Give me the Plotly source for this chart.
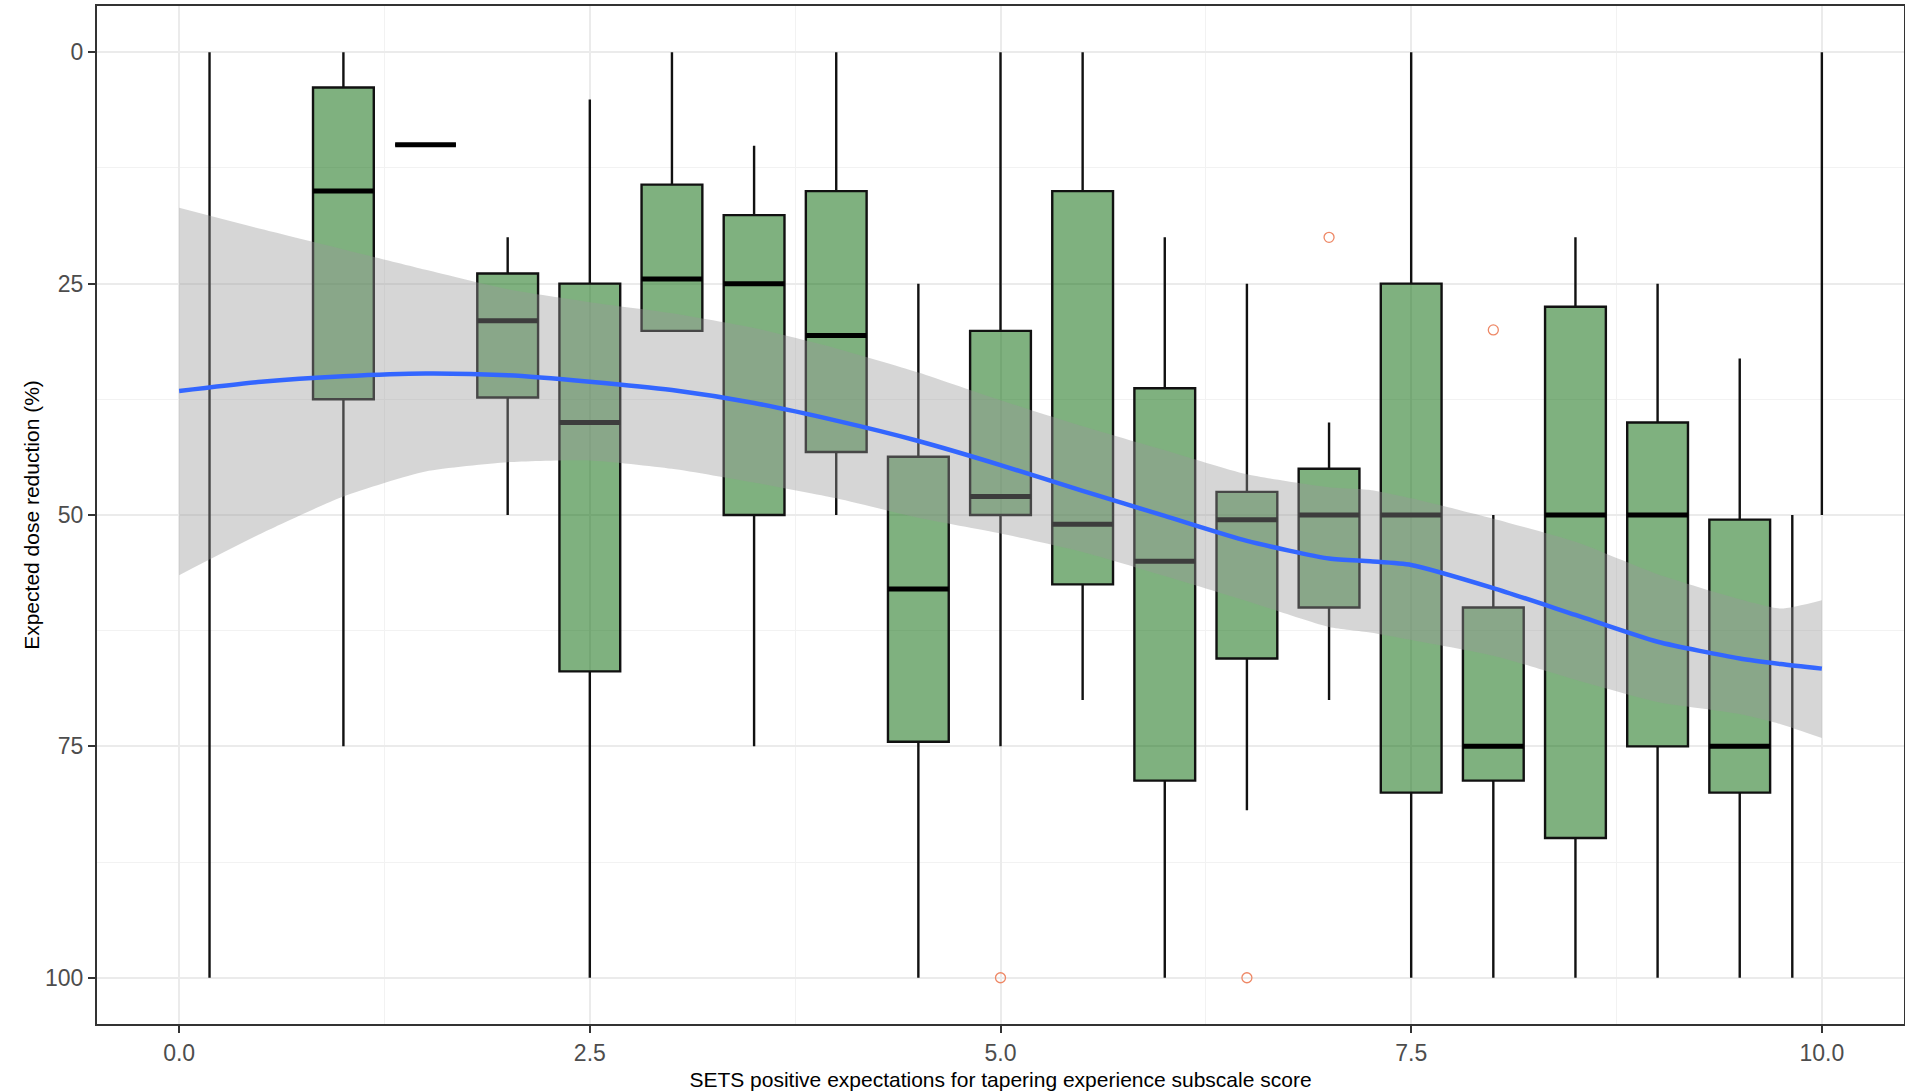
import plotly.graph_objects as go

# ---------------- data ----------------
box_x = [1.0, 1.5, 2.0, 2.5, 3.0, 3.5, 4.0, 4.5, 5.0, 5.5, 6.0, 6.5, 7.0, 7.5, 8.0, 8.5, 9.0, 9.5]
box_low = [0, 10, 20, 5.1, 0, 10.1, 0, 25, 0, 0, 20, 25, 40, 0, 50, 20, 25, 33.1]
box_q1 = [3.8, 10, 23.9, 25, 14.3, 17.6, 15.0, 43.7, 30.1, 15.0, 36.3, 47.5, 45, 25, 60, 27.5, 40.0, 50.5]
box_med = [15.0, 10, 29.0, 40.0, 24.5, 25, 30.6, 58.0, 48.0, 51.0, 55.0, 50.5, 50, 50, 75, 50, 50, 75]
box_q3 = [37.5, 10, 37.3, 66.9, 30.1, 50, 43.2, 74.5, 50, 57.5, 78.7, 65.5, 60, 80, 78.7, 84.9, 75, 80]
box_high = [75, 10, 50, 100, 30.1, 75, 50, 100, 75, 70, 100, 81.9, 70, 100, 100, 100, 100, 100]

# whisker-only groups (no visible box)
seg_x = [0.185, 9.82, 10.0]
seg_low = [0, 50, 0]
seg_high = [100, 100, 50]

out_x = [5.0, 6.5, 7.0, 8.0]
out_y = [100, 100, 20, 30]

smooth_x = [0.0, 0.5, 1.0, 1.5, 2.0, 2.5, 3.0, 3.5, 4.0, 4.5, 5.0, 5.5, 6.0, 6.5, 7.0, 7.25, 7.5, 8.0, 8.5, 9.0, 9.5, 9.75, 10.0]
smooth_y = [36.6, 35.6, 35.0, 34.7, 34.9, 35.6, 36.5, 37.9, 39.8, 42.0, 44.6, 47.4, 50.1, 52.8, 54.7, 55.0, 55.4, 57.9, 60.8, 63.7, 65.5, 66.1, 66.6]
band_top = [16.8, 19.1, 21.3, 23.5, 25.6, 27.0, 28.2, 29.8, 32.0, 34.6, 37.6, 40.4, 43.0, 45.6, 47.0, 47.3, 48.2, 50.4, 52.9, 56.4, 59.1, 60.1, 59.2]
band_bot = [56.5, 52.0, 48.0, 45.3, 44.3, 44.1, 45.0, 46.5, 48.2, 50.3, 52.0, 54.0, 56.6, 59.3, 62.1, 62.7, 63.5, 65.2, 67.8, 70.2, 71.5, 72.6, 74.1]

x_tickvals = [0.0, 2.5, 5.0, 7.5, 10.0]
x_ticktext = ["0.0", "2.5", "5.0", "7.5", "10.0"]
y_tickvals = [0, 25, 50, 75, 100]
y_ticktext = ["0", "25", "50", "75", "100"]

x_title = "SETS positive expectations for tapering experience subscale score"
y_title = "Expected dose reduction (%)"

# ---------------- styling ----------------
BOX_W = 0.37
FONT = "Liberation Sans, Arial, sans-serif"

fig = go.Figure()

for i in range(len(box_x)):
    fig.add_trace(go.Box(
        x=[box_x[i]], q1=[box_q1[i]], median=[box_med[i]], q3=[box_q3[i]],
        lowerfence=[box_low[i]], upperfence=[box_high[i]],
        width=BOX_W, whiskerwidth=0,
        fillcolor="rgba(0,100,0,0.5)",
        line=dict(color="#111111", width=2.4),
        boxpoints=False, showlegend=False, hoverinfo="skip",
    ))

# whisker-only segments
sx, sy = [], []
for x, lo, hi in zip(seg_x, seg_low, seg_high):
    sx += [x, x, None]
    sy += [lo, hi, None]
fig.add_trace(go.Scatter(x=sx, y=sy, mode="lines",
                         line=dict(color="#111111", width=2.4),
                         showlegend=False, hoverinfo="skip"))

# thick median lines
mx, my = [], []
for x, m in zip(box_x, box_med):
    mx += [x - BOX_W / 2, x + BOX_W / 2, None]
    my += [m, m, None]
fig.add_trace(go.Scatter(x=mx, y=my, mode="lines",
                         line=dict(color="#000000", width=5),
                         showlegend=False, hoverinfo="skip"))

# confidence band (lower edge, then upper edge filled to it)
fig.add_trace(go.Scatter(
    x=smooth_x, y=band_bot, mode="lines",
    line=dict(width=0, shape="spline", smoothing=0.6, color="rgba(0,0,0,0)"),
    showlegend=False, hoverinfo="skip",
))
fig.add_trace(go.Scatter(
    x=smooth_x, y=band_top, mode="lines", fill="tonexty",
    fillcolor="rgba(153,153,153,0.4)",
    line=dict(width=0, shape="spline", smoothing=0.6, color="rgba(0,0,0,0)"),
    showlegend=False, hoverinfo="skip",
))

# smooth line
fig.add_trace(go.Scatter(
    x=smooth_x, y=smooth_y, mode="lines",
    line=dict(color="#3366FF", width=4.5, shape="spline", smoothing=0.6),
    showlegend=False, hoverinfo="skip",
))

# outliers
fig.add_trace(go.Scatter(
    x=out_x, y=out_y, mode="markers",
    marker=dict(symbol="circle-open", size=10, color="#EE8866", line=dict(width=1.3)),
    showlegend=False, hoverinfo="skip",
))

fig.update_layout(
    width=1905, height=1092,
    margin=dict(l=97, r=1, t=6, b=68),
    paper_bgcolor="white", plot_bgcolor="white",
    boxmode="overlay",
    font=dict(family=FONT, color="#000000"),
    showlegend=False,
)

fig.update_xaxes(
    range=[-0.5, 10.5],
    tickvals=x_tickvals, ticktext=x_ticktext,
    tickfont=dict(size=23, color="#4D4D4D", family=FONT),
    ticks="outside", ticklen=7, tickwidth=2, tickcolor="#333333",
    showgrid=True, gridcolor="#EBEBEB", gridwidth=2,
    minor=dict(tickvals=[1.25, 3.75, 6.25, 8.75], showgrid=True, gridcolor="#F2F2F2", gridwidth=1.2, ticks=""),
    showline=True, linecolor="#333333", linewidth=2, mirror=True,
    zeroline=False, automargin=False,
    title=dict(text=x_title, font=dict(size=21, color="#000000", family=FONT), standoff=8),
)
fig.update_yaxes(
    range=[105, -5],
    tickvals=y_tickvals, ticktext=y_ticktext,
    tickfont=dict(size=23, color="#4D4D4D", family=FONT),
    ticks="outside", ticklen=7, tickwidth=2, tickcolor="#333333",
    showgrid=True, gridcolor="#EBEBEB", gridwidth=2,
    minor=dict(tickvals=[12.5, 37.5, 62.5, 87.5], showgrid=True, gridcolor="#F2F2F2", gridwidth=1.2, ticks=""),
    showline=True, linecolor="#333333", linewidth=2, mirror=True,
    zeroline=False, automargin=False,
    title=dict(text=y_title, font=dict(size=21, color="#000000", family=FONT), standoff=0),
)

fig.write_html("out.html", config={"displayModeBar": False},
               post_script="document.body.style.margin='0px';")
